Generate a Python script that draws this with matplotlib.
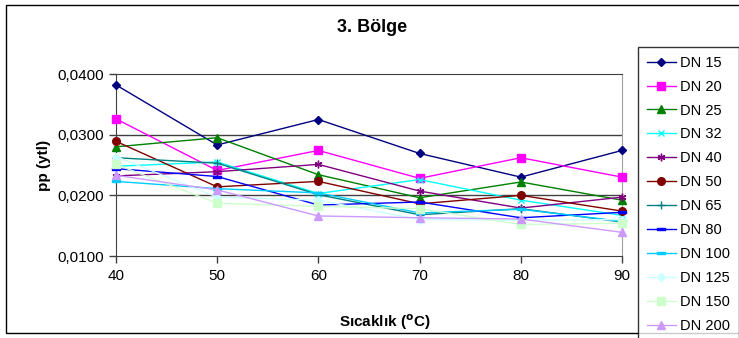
import matplotlib
matplotlib.use("Agg")
from matplotlib import pyplot as plt
from matplotlib.patches import Rectangle
from matplotlib.path import Path

temps = [40, 50, 60, 70, 80, 90]
names = ["DN 15", "DN 20", "DN 25", "DN 32", "DN 40", "DN 50",
         "DN 65", "DN 80", "DN 100", "DN 125", "DN 150", "DN 200"]

dn15 = [0.0382, 0.0283, 0.0325, 0.0269, 0.0230, 0.0274]
dn20 = [0.0326, 0.0241, 0.0274, 0.0228, 0.0262, 0.0230]
dn25 = [0.0280, 0.0295, 0.0234, 0.0196, 0.0222, 0.0192]
dn32 = [0.0248, 0.0255, 0.0203, 0.0226, 0.0192, 0.0167]
dn40 = [0.0232, 0.0239, 0.0251, 0.0207, 0.0179, 0.0197]
dn50 = [0.0289, 0.0214, 0.0223, 0.0186, 0.0200, 0.0174]
dn65 = [0.0262, 0.0253, 0.0201, 0.0168, 0.0178, 0.0156]
dn80 = [0.0244, 0.0231, 0.0184, 0.0189, 0.0163, 0.0172]
dn100 = [0.0223, 0.0211, 0.0204, 0.0171, 0.0177, 0.0157]
dn125 = [0.0264, 0.0197, 0.0192, 0.0160, 0.0159, 0.0160]
dn150 = [0.0251, 0.0187, 0.0182, 0.0178, 0.0152, 0.0154]
dn200 = [0.0233, 0.0209, 0.0166, 0.0163, 0.0161, 0.0139]

series = [dn15, dn20, dn25, dn32, dn40, dn50,
          dn65, dn80, dn100, dn125, dn150, dn200]
colors = ["#000080", "#FF00FF", "#008000", "#00FFFF", "#800080", "#800000",
          "#008080", "#0000FF", "#00CCFF", "#CCFFFF", "#CCFFCC", "#CC99FF"]

# short and long dash markers
short_dash = Path([(-1, -0.35), (1, -0.35), (1, 0.35), (-1, 0.35), (-1, -0.35)],
                  [1, 2, 2, 2, 79])
long_dash = Path([(-1.6, -0.35), (1.6, -0.35), (1.6, 0.35), (-1.6, 0.35),
                  (-1.6, -0.35)], [1, 2, 2, 2, 79])
markers = ["D", "s", "^", "x", (6, 2, 0), "o", "+", short_dash, long_dash,
           "D", "s", "^"]
sizes = [4.5, 5.5, 6, 5, 5.5, 5.5, 5.5, 5.5, 5.5, 4.5, 5.5, 6]

plt.rcParams["font.family"] = ["Liberation Sans", "DejaVu Sans"]
plt.rcParams["font.size"] = 10

fig = plt.figure(figsize=(7.39, 3.38), dpi=100)
fig.patches.append(Rectangle((6 / 739, 5 / 338), 760 / 739, 328 / 338,
                             transform=fig.transFigure, fill=False,
                             edgecolor="black", linewidth=1, zorder=0))

ax = fig.add_axes([116 / 739, 82 / 338, 506 / 739, 182 / 338])
for ys, nm, c, m, s in zip(series, names, colors, markers, sizes):
    ax.plot(temps, ys, color=c, linewidth=1, marker=m, markersize=s,
            markerfacecolor=c, markeredgecolor=c, markeredgewidth=1,
            label=nm, clip_on=False, zorder=3)

ax.set_xlim(40, 90)
ax.set_ylim(0.01, 0.04)
ax.set_xticks(temps)
yt = [0.01, 0.02, 0.03, 0.04]
ax.set_yticks(yt)
ax.set_yticklabels([f"{v:.4f}".replace(".", ",") for v in yt])
ax.tick_params(direction="out", length=5, width=1, color="#404040",
               labelsize=11, pad=4)
for v in [0.02, 0.03]:
    ax.axhline(v, color="#404040", linewidth=1, zorder=1)
ax.spines["left"].set_color("#404040")
ax.spines["bottom"].set_color("#404040")
ax.spines["top"].set_color("#404040")
ax.spines["right"].set_color("#A0A0A0")

fig.text(372 / 739, 1 - 28 / 338, "3. Bölge", ha="center", va="center",
         fontsize=13, fontweight="bold")
fig.text(385 / 739, 1 - 322 / 338, "Sıcaklık ($\\mathbf{^{o}}$C)",
         ha="center", va="center", fontsize=11, fontweight="bold")
fig.text(44 / 739, 1 - 165 / 338, "pp (ytl)", ha="center", va="center",
         rotation=90, fontsize=11, fontweight="bold")

leg = fig.legend(loc="upper left", bbox_to_anchor=(638 / 739, 1 - 47 / 338),
                 frameon=True, fancybox=False, edgecolor="black",
                 borderaxespad=0, handlelength=2.0, handletextpad=0.3,
                 labelspacing=0.68, borderpad=0.6, fontsize=10.5)
leg.get_frame().set_linewidth(1)

fig.savefig("out.png", dpi=100)
